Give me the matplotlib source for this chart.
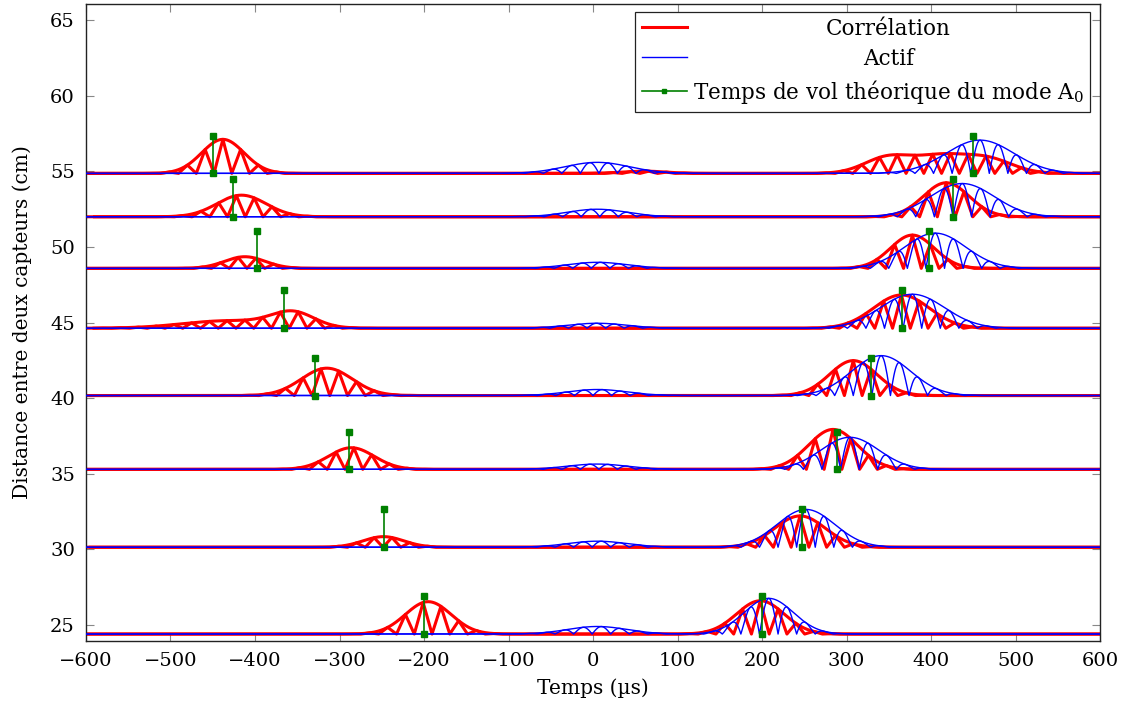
import numpy as np
import matplotlib
matplotlib.use("Agg")
import matplotlib.pyplot as plt
from matplotlib.lines import Line2D
from matplotlib.transforms import IdentityTransform

# ---------------- data ----------------
# distance between the two sensors of each pair (cm) = trace baseline
distances = [24.40, 30.14, 35.29, 40.17, 44.62, 48.58, 51.99, 54.86]
# theoretical A0 time of flight (µs)
tof = [200, 247, 289, 329, 366, 398, 426, 450]
tof_height = 2.5  # height of the green marker (cm)

# "Corrélation" wave packets per pair: (centre µs, amplitude cm, width µs)
corr_packets = [
    [(-195, 2.14, 27), (198, 2.20, 28)],
    [(-248, 0.70, 24), (245, 2.07, 30)],
    [(-286, 1.43, 27), (284, 2.64, 29)],
    [(-315, 1.81, 30), (308, 2.31, 28)],
    [(-355, 0.95, 25), (-430, 0.50, 55), (365, 2.20, 33)],
    [(-412, 0.77, 24), (378, 2.20, 26)],
    [(-416, 1.43, 29), (418, 2.25, 27)],
    [(-438, 2.25, 25), (60, 0.15, 25), (350, 1.10, 28), (410, 1.00, 28), (465, 1.00, 30)],
]
# "Actif" wave packets per pair
act_packets = [
    [(5, 0.50, 35), (208, 2.36, 29)],
    [(5, 0.40, 35), (252, 2.50, 34)],
    [(5, 0.35, 35), (304, 2.12, 34)],
    [(5, 0.40, 35), (341, 2.64, 35)],
    [(5, 0.33, 35), (378, 2.25, 38)],
    [(5, 0.40, 35), (405, 2.33, 36)],
    [(5, 0.50, 35), (437, 2.20, 38)],
    [(5, 0.73, 38), (458, 2.20, 40)],
]
corr_lobe = 21.0   # spacing of rectified lobes (µs)
act_lobe = 22.0

xticks = list(range(-600, 601, 100))
yticks = list(range(25, 66, 5))
label_corr = "Corrélation"
label_act = "Actif"
label_tof = r"Temps de vol théorique du mode A$_\mathrm{0}$"

# ---------------- style ----------------
plt.rcParams["font.family"] = ["DejaVu Serif"]
plt.rcParams["mathtext.fontset"] = "dejavuserif"
FS_TICK = 14
FS_LAB = 14.5
FS_LEG = 15.5

W, H = 1123, 713
fig = plt.figure(figsize=(W / 100, H / 100), dpi=100)
ax = fig.add_axes([86 / W, 1 - 641 / H, (1100 - 86) / W, (641 - 4) / H])


def envelope(packets, tt):
    env = np.zeros_like(tt, dtype=float)
    for c, a, s in packets:
        env += a * np.exp(-((tt - c) ** 2) / (2 * s ** 2))
    return env


def traces(packets, lobe, base, step):
    c0 = max(packets, key=lambda p: p[1])[0]
    # sample grid aligned on the main packet's lobe
    n0 = np.ceil((-600 - c0) / step)
    ts = c0 + step * np.arange(n0, (600 - c0) / step + 1)
    sig = envelope(packets, ts) * np.abs(np.cos(np.pi * (ts - c0) / lobe))
    tf = np.linspace(-600, 600, 2401)
    return ts, base + sig, tf, base + envelope(packets, tf)


for i, d in enumerate(distances):
    ts, s, tf, e = traces(corr_packets[i], corr_lobe, d, corr_lobe / 2)
    ax.plot(ts, s, color="#ff0000", lw=2.2, solid_joinstyle="round", zorder=2)
    ax.plot(tf, e, color="#ff0000", lw=2.2, zorder=2)
    ts, s, tf, e = traces(act_packets[i], act_lobe, d, 1.0)
    ax.plot(ts, s, color="#0000ff", lw=1.0, zorder=3)
    ax.plot(tf, e, color="#0000ff", lw=1.0, zorder=3)
    for sign in (-1, 1):
        x = sign * tof[i]
        ax.plot([x, x], [d, d + tof_height], color="#008000", lw=1.2,
                marker="s", ms=3.8, zorder=4)

ax.set_xlim(-600, 600)
ax.set_ylim(23.94, 66.06)
ax.set_xticks(xticks)
ax.set_yticks(yticks)
ax.tick_params(direction="in", length=6, width=0.8, color="#888888",
               labelsize=FS_TICK, top=True, right=True, pad=8)
for sp in ax.spines.values():
    sp.set_linewidth(1.0)
    sp.set_color("#222222")
ax.set_xlabel("Temps (µs)", fontsize=FS_LAB, labelpad=6)
ax.set_ylabel("Distance entre deux capteurs (cm)", fontsize=FS_LAB, labelpad=13)

handles = [
    Line2D([], [], color="#ff0000", lw=2.2),
    Line2D([], [], color="#0000ff", lw=1.0),
    Line2D([], [], color="#008000", lw=1.2, marker="s", ms=3.5),
]
leg = ax.legend(handles, ["", "", label_tof], loc="upper right",
                bbox_to_anchor=(0.990, 0.9875), fontsize=FS_LEG, frameon=True,
                fancybox=False, edgecolor="#222222", framealpha=1,
                handlelength=2.1, handletextpad=0.28, labelspacing=0.37,
                borderpad=0.28, borderaxespad=0)
leg.get_frame().set_linewidth(0.9)
texts = leg.get_texts()

fig.canvas.draw()
ref = texts[2].get_window_extent()
xc = (ref.x0 + ref.x1) / 2
for txt, lab in zip(texts[:2], [label_corr, label_act]):
    xb, yb = txt.get_transform().transform(txt.get_position())
    fig.text(xc, yb, lab, ha="center", va="baseline",
             fontsize=FS_LEG, transform=IdentityTransform(), zorder=10)

fig.savefig("out.png", dpi=100)
